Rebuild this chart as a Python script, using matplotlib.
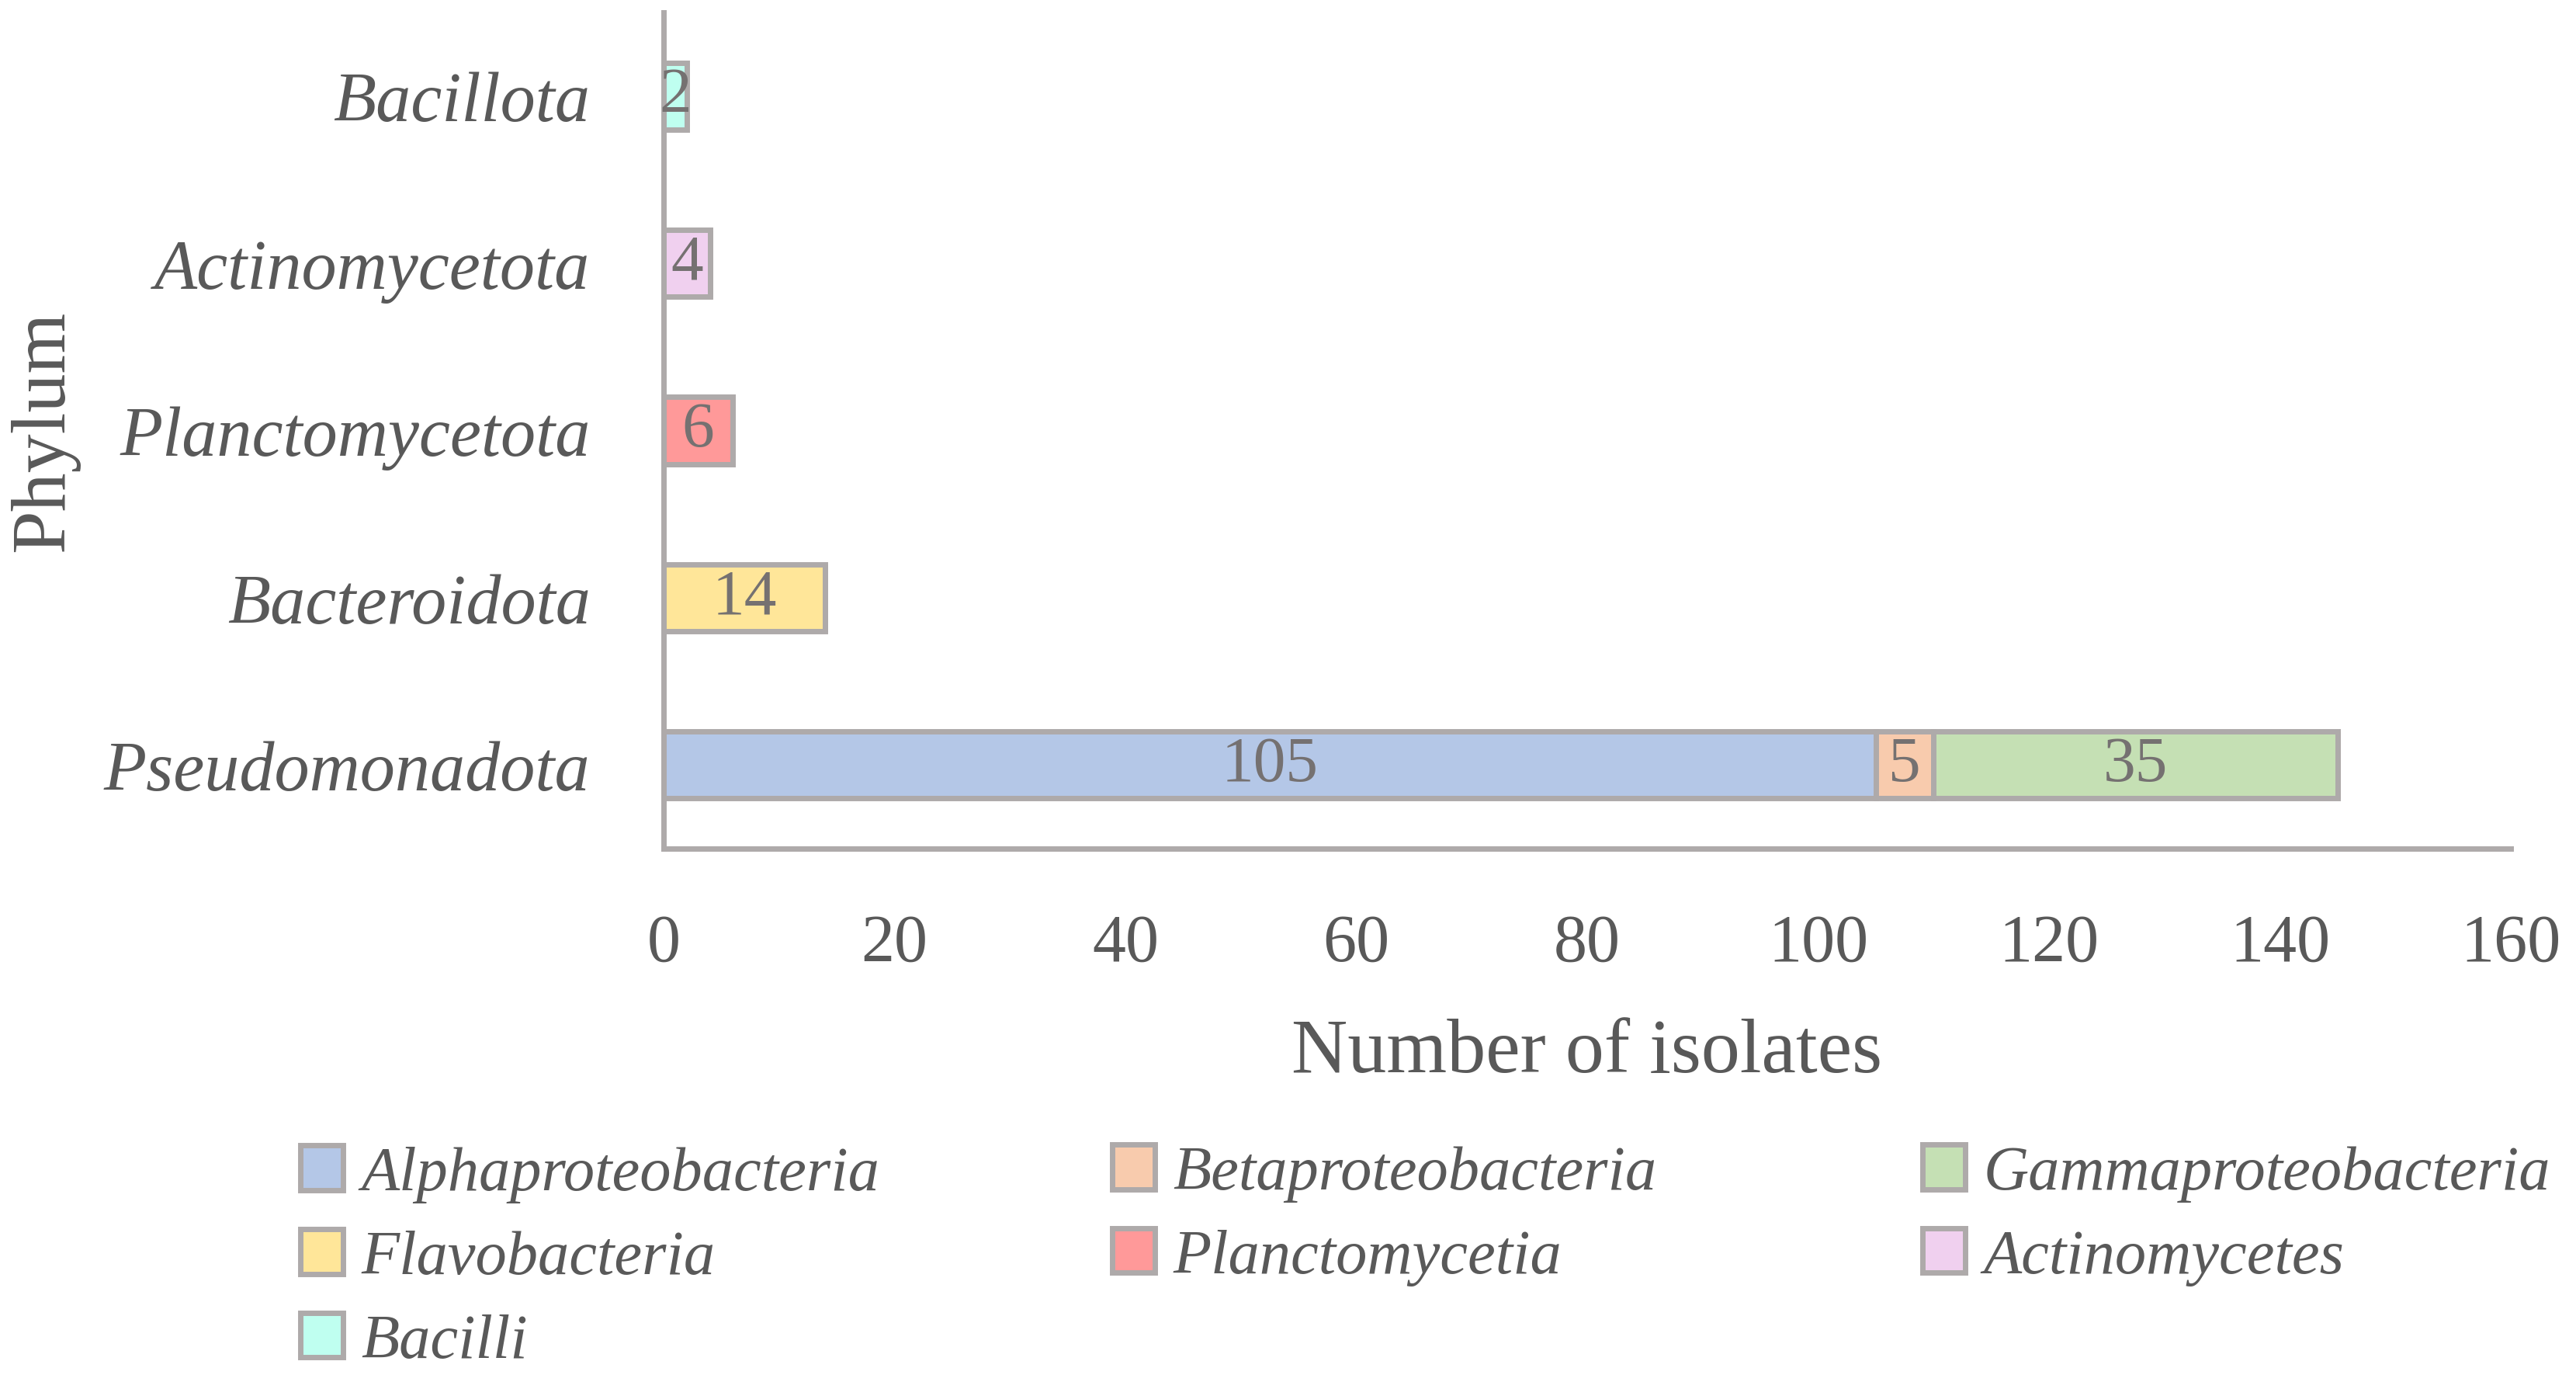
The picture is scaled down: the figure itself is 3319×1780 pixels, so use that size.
import matplotlib.pyplot as plt
import numpy as np

plt.rcParams['font.family'] = ['Liberation Serif', 'DejaVu Serif']

phyla = ["Pseudomonadota", "Bacteroidota", "Planctomycetota", "Actinomycetota", "Bacillota"]
classes = ["Alphaproteobacteria", "Betaproteobacteria", "Gammaproteobacteria",
           "Flavobacteria", "Planctomycetia", "Actinomycetes", "Bacilli"]
# isolates per class, one value per phylum (same order as phyla)
alpha = [105, 0, 0, 0, 0]
beta = [5, 0, 0, 0, 0]
gamma = [35, 0, 0, 0, 0]
flavo = [0, 14, 0, 0, 0]
plancto = [0, 0, 6, 0, 0]
actino = [0, 0, 0, 4, 0]
bacilli = [0, 0, 0, 0, 2]
series = [alpha, beta, gamma, flavo, plancto, actino, bacilli]
colors = ["#B4C7E7", "#F8CBAD", "#C5E0B4", "#FFE699", "#FF9999", "#F0D0EF", "#BFFFF0"]

txt = "#595959"
edge = "#AEAAAA"
W, H = 3319, 1781

fig = plt.figure(figsize=(W / 200, H / 200), dpi=200)
ax = fig.add_axes([855 / W, 1 - 1094 / H, (3235 - 855) / W, (1094 - 17) / H])

y = np.arange(len(phyla))
left = np.zeros(len(phyla))
handles = []
for vals, c, name in zip(series, colors, classes):
    vals = np.array(vals, dtype=float)
    bars = ax.barh(y, vals, left=left, height=0.4, color=c, edgecolor=edge,
                   linewidth=2.5, label=name)
    labs = [str(int(v)) if v > 0 else "" for v in vals]
    ax.bar_label(bars, labels=labs, label_type='center', color="#757171", fontsize=30)
    left += vals
    handles.append(bars)

ax.set_xlim(0, 160)
ax.set_ylim(-0.5, 4.5)
ax.set_xticks(range(0, 161, 20))
ax.set_yticks(y)
ax.set_yticklabels(phyla, fontstyle='italic')
ax.tick_params(axis='both', length=0, labelsize=31, colors=txt)
ax.tick_params(axis='y', pad=34, labelsize=32.5)
ax.tick_params(axis='x', pad=30)
for s in ['top', 'right']:
    ax.spines[s].set_visible(False)
for s in ['left', 'bottom']:
    ax.spines[s].set_color(edge)
    ax.spines[s].set_linewidth(2.5)

fig.text(2045 / W, 1 - 1357 / H, "Number of isolates", ha='center', va='center',
         fontsize=36, color=txt)
fig.text(57 / W, 1 - 555 / H, "Phylum", ha='center', va='center',
         rotation=90, fontsize=36, color=txt)

# legend laid out row by row in three columns
cols = [[0, 3, 6], [1, 4], [2, 5]]
col_x = [387, 1433, 2477]
for idx, x in zip(cols, col_x):
    yc = 1621 if len(idx) == 3 else 1566
    leg = fig.legend([handles[i] for i in idx], [classes[i] for i in idx],
                     loc='center left', bbox_to_anchor=(x / W, 1 - yc / H),
                     frameon=False, borderpad=0, borderaxespad=0,
                     handlelength=0.68, handleheight=0.72, handletextpad=0.29,
                     labelspacing=0.42, prop={'size': 29, 'style': 'italic'})
    for t in leg.get_texts():
        t.set_color(txt)

fig.savefig("out.png", dpi=200)
